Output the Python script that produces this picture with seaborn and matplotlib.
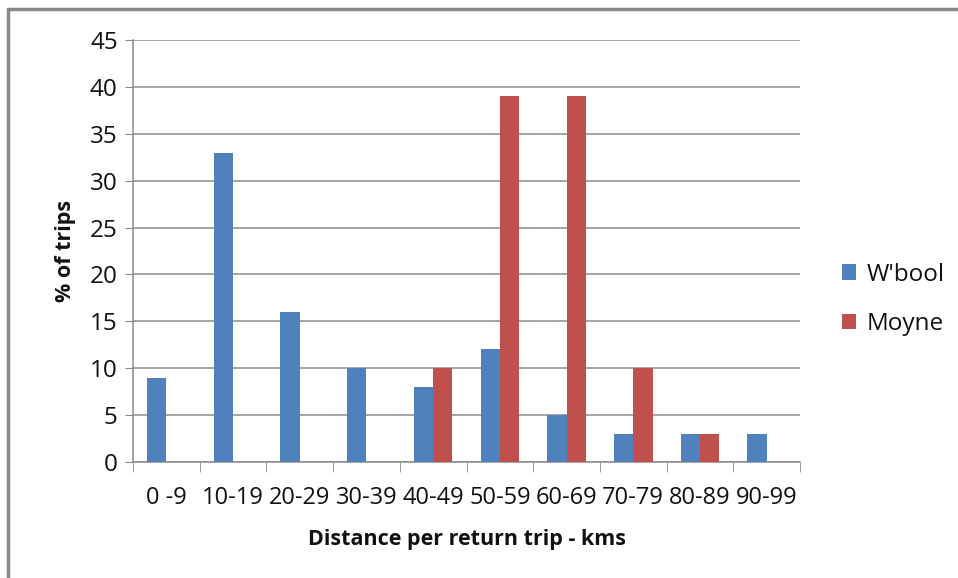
import matplotlib
matplotlib.use("Agg")
import matplotlib.pyplot as plt
import seaborn as sns
import pandas as pd
from matplotlib.lines import Line2D

categories = ["0 -9", "10-19", "20-29", "30-39", "40-49",
              "50-59", "60-69", "70-79", "80-89", "90-99"]
wbool = [9, 33, 16, 10, 8, 12, 5, 3, 3, 3]
moyne = [0, 0, 0, 0, 10, 39, 39, 10, 3, 0]
series = ["W'bool", "Moyne"]
colors = ["#4F81BD", "#C0504D"]

df = pd.DataFrame({
    "range": categories * 2,
    "pct": wbool + moyne,
    "series": [series[0]] * len(categories) + [series[1]] * len(categories),
})

sns.set_style("white")
plt.rcParams["font.family"] = ["Open Sans", "DejaVu Sans"]

fig = plt.figure(figsize=(9.58, 5.78), dpi=100)
ax = fig.add_axes([133 / 958, 1 - 462 / 578, (800 - 133) / 958, (462 - 40) / 578])

sns.barplot(data=df, x="range", y="pct", hue="series", palette=colors,
            width=0.58, saturation=1, linewidth=0, ax=ax, zorder=3)

ax.set_ylim(0, 45)
ax.set_xlim(-0.5, len(categories) - 0.5)
ax.set_yticks(range(0, 50, 5))
ax.yaxis.grid(True, color="#8C8C8C", linewidth=1.1, zorder=0)
ax.set_axisbelow(True)

for s in ["top", "right"]:
    ax.spines[s].set_visible(False)
for s in ["left", "bottom"]:
    ax.spines[s].set_color("#8C8C8C")
    ax.spines[s].set_linewidth(1.1)

ax.tick_params(axis="y", which="major", length=6, color="#8C8C8C", left=True,
               labelsize=17.5, pad=5, labelcolor="#111111")
ax.tick_params(axis="x", which="major", length=0, labelsize=17, pad=17,
               labelcolor="#111111")
ax.set_xticks([i - 0.5 for i in range(len(categories) + 1)], minor=True)
ax.tick_params(axis="x", which="minor", length=7, color="#8C8C8C", bottom=True)

ax.set_xlabel("Distance per return trip - kms", fontsize=15.5, fontweight="bold",
              labelpad=14, color="#111111")
ax.set_ylabel("% of trips", fontsize=15.5, fontweight="bold", labelpad=10,
              color="#111111")

leg = ax.legend(loc="center left", bbox_to_anchor=(1.03, 0.385), frameon=False,
                fontsize=17.5, handlelength=0.6, handleheight=0.6,
                handletextpad=0.4, labelspacing=1.05)
for t in leg.get_texts():
    t.set_color("#111111")

# outer chart-area border (only top and left edges are visible in the crop)
fig.add_artist(Line2D([8 / 958, 1], [1 - 9 / 578] * 2, transform=fig.transFigure,
                      color="#888888", linewidth=2.5))
fig.add_artist(Line2D([8 / 958] * 2, [0, 1 - 9 / 578], transform=fig.transFigure,
                      color="#888888", linewidth=2.5))

fig.savefig("out.png", dpi=100)
